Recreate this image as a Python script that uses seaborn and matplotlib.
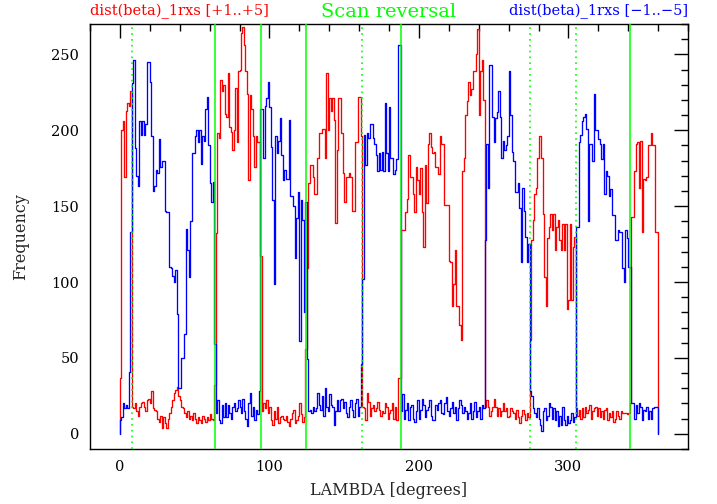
import numpy as np
import pandas as pd
import matplotlib
matplotlib.use("Agg")
import matplotlib.pyplot as plt
import seaborn as sns
from matplotlib.ticker import MultipleLocator

# ---- data: frequency per 1-degree LAMBDA bin (0..359) ----
red_counts = (
    # d0-d7
    [37, 200, 206, 169, 213, 218, 216, 226]
    # d8-d63
    + [18, 17, 20, 15, 12, 18, 20, 21, 18, 15, 22, 23, 20, 28, 17, 16, 15, 10, 8, 12,
       4, 11, 7, 4, 10, 14, 18, 22, 27, 29, 31, 25, 22, 18, 17, 14, 11, 15, 10, 12,
       9, 14, 10, 7, 11, 9, 7, 12, 10, 8, 11, 9, 13, 10, 9, 32]
    # d64-d94
    + [132, 198, 195, 233, 226, 230, 211, 209, 238, 202, 199, 187, 200, 228, 192, 239,
       240, 264, 268, 256, 239, 224, 167, 223, 214, 196, 176, 196, 192, 192, 117]
    # d95-d123
    + [15, 20, 17, 22, 14, 18, 9, 6, 15, 10, 18, 7, 11, 12, 10, 9, 12, 8, 5, 10,
       14, 16, 7, 9, 12, 20, 13, 8, 11]
    # d124-d161
    + [56, 109, 165, 177, 177, 169, 158, 158, 182, 198, 198, 201, 201, 182, 238, 200,
       221, 213, 221, 207, 139, 187, 221, 221, 198, 172, 153, 169, 169, 172, 169, 147,
       147, 192, 192, 222, 222, 196]
    # d162-d187
    + [18, 17, 9, 27, 21, 12, 17, 19, 15, 17, 21, 16, 12, 15, 14, 20, 18, 10, 14, 16,
       20, 10, 18, 9, 37, 37]
    # d188-d243
    + [134, 134, 134, 146, 155, 184, 169, 169, 158, 146, 176, 167, 158, 175, 146, 123,
       177, 152, 191, 198, 189, 185, 186, 176, 176, 171, 196, 191, 191, 151, 151, 151,
       114, 113, 84, 99, 121, 84, 84, 72, 62, 173, 182, 210, 219, 232, 223, 227,
       239, 239, 250, 267, 210, 239, 246, 220]
    # d244-d273
    + [18, 22, 18, 12, 15, 18, 23, 18, 12, 17, 12, 15, 20, 15, 17, 11, 12, 17, 15, 14,
       10, 16, 11, 7, 12, 16, 13, 9, 14, 11]
    # d274-d304
    + [62, 128, 141, 158, 162, 182, 196, 196, 182, 145, 103, 84, 129, 136, 145, 134,
       145, 121, 136, 141, 128, 121, 138, 121, 138, 82, 88, 138, 88, 123, 130]
    # d305-d341
    + [17, 12, 16, 10, 17, 11, 18, 14, 16, 19, 10, 15, 17, 18, 12, 17, 11, 15, 10, 16,
       17, 9, 14, 11, 15, 8, 10, 15, 12, 10, 15, 14, 14, 14, 13, 14, 20]
    # d342-d359
    + [143, 143, 173, 191, 192, 162, 193, 133, 168, 167, 169, 190, 190, 198, 190, 190,
       133, 133]
)

blue_counts = (
    # d0-d63
    [9, 11, 20, 17, 19, 17, 41, 133,
     231, 246, 188, 170, 163, 206, 197, 206, 197, 204,
     245, 245, 232, 196, 160, 163, 174, 172, 194, 176,
     180, 180, 147, 146, 146, 110, 109, 104, 100, 108,
     79, 30, 30, 50, 50, 66, 135, 121, 103, 140,
     185, 185, 196, 200, 192, 200, 178, 196, 193, 214,
     222, 190, 165, 153, 166, 59]
    # d64-d93
    + [14, 22, 9, 7, 19, 11, 20, 11, 19, 14, 10, 18, 20, 15, 17, 22, 18, 14, 23, 15,
       10, 5, 20, 27, 12, 18, 9, 16, 13, 28]
    # d94-d124
    + [214, 214, 182, 216, 221, 232, 215, 189, 154, 99, 196, 185, 193, 208, 184, 167,
       174, 168, 168, 207, 157, 157, 150, 116, 142, 159, 61, 154, 141, 80, 153]
    # d125-d161
    + [49, 15, 16, 14, 18, 15, 17, 27, 19, 16, 25, 12, 30, 18, 15,
       26, 19, 18, 6, 15, 22, 15, 22, 23, 17, 21, 14, 11, 18, 22, 16, 11, 20, 23, 12,
       18, 46]
    # d162-d187
    + [102, 197, 177, 198, 195, 204, 204, 195, 191, 184, 173, 185, 174, 186, 173, 218,
       185, 173, 215, 182, 182, 171, 174, 181, 256, 256]
    # d188-d243
    + [15, 26, 10, 16, 20, 9, 18, 19, 10, 8, 15, 22, 10, 16, 23, 19, 11, 16, 18, 22,
       12, 9, 9, 19, 16, 20, 22, 14, 13, 20, 24, 15, 12, 17, 21, 14, 18, 9, 17, 22,
       19, 14, 18, 15, 10, 14, 20, 10, 15, 21, 11, 15, 18, 10, 19, 17]
    # d244-d274
    + [128, 191, 162, 243, 243, 209, 192, 208, 212, 226, 209, 182, 193, 187, 190, 196,
       239, 210, 186, 180, 159, 159, 165, 149, 113, 162, 147, 130, 113, 125, 28]
    # d275-d304
    + [25, 17, 14, 11, 17, 10, 6, 2, 15, 17, 9, 12, 20, 18, 10, 17, 9, 15, 5, 12,
       6, 18, 9, 6, 12, 7, 9, 14, 8, 11]
    # d305-d341
    + [136, 136, 192, 197, 206, 209, 211, 201, 140, 191, 191, 180, 224, 200, 200, 194,
       191, 181, 191, 158, 173, 170, 157, 161, 144, 144, 128, 128, 134, 133, 133, 109,
       100, 134, 129, 110, 110]
    # d342-d359
    + [20, 20, 10, 19, 14, 20, 18, 9, 16, 15, 18, 10, 15, 10, 17, 18, 18, 18]
)

assert len(red_counts) == 360, len(red_counts)
assert len(blue_counts) == 360, len(blue_counts)

bin_start = list(range(360))          # LAMBDA bins, degrees
solid_reversals = [63.7, 94.5, 124.5, 187.7, 341.5]
dotted_reversals = [7.9, 162.0, 274.6, 305.0]

title_red = "dist(beta)_1rxs [+1..+5]"
title_green = "Scan reversal"
title_blue = "dist(beta)_1rxs [\u22121..\u22125]"
xlabel = "LAMBDA [degrees]"
ylabel = "Frequency"


def step_frame(vals):
    # closed histogram outline: start and end on the baseline
    x = [bin_start[0]] + bin_start + [bin_start[-1] + 1, bin_start[-1] + 1]
    y = [0] + list(vals) + [vals[-1], 0]
    return pd.DataFrame({"lam": x, "freq": y})


df_red = step_frame(red_counts)
df_blue = step_frame(blue_counts)

sns.set_theme(style="white")
plt.rcParams["font.family"] = ["DejaVu Serif"]

fig = plt.figure(figsize=(7.17, 5.04), dpi=100)
ax = fig.add_axes([90 / 717, 1 - 449 / 504, 598 / 717, 425 / 504])

sns.lineplot(data=df_blue, x="lam", y="freq", ax=ax, color="#0000ff", lw=0.95,
             drawstyle="steps-post", estimator=None, sort=False, zorder=3)
sns.lineplot(data=df_red, x="lam", y="freq", ax=ax, color="#ff0000", lw=0.95,
             drawstyle="steps-post", estimator=None, sort=False, zorder=2)

for xv in solid_reversals:
    ax.axvline(xv, color="#00ff00", lw=1.1, zorder=4)
for xv in dotted_reversals:
    ax.axvline(xv, color="#00ff00", lw=1.2, ls=(0, (1, 2.5)), zorder=4)

ax.set_xlim(-20, 380)
ax.set_ylim(-10, 270)
ax.xaxis.set_major_locator(MultipleLocator(100))
ax.xaxis.set_minor_locator(MultipleLocator(20))
ax.yaxis.set_major_locator(MultipleLocator(50))
ax.yaxis.set_minor_locator(MultipleLocator(10))
ax.tick_params(which="both", direction="in", top=True, right=True,
               color="black", width=1.0, labelsize=10.5, labelcolor="black")
ax.tick_params(which="major", length=10, pad=8)
ax.tick_params(which="minor", length=5)
for s in ax.spines.values():
    s.set_color("black")
    s.set_linewidth(1.0)

ax.set_xlabel(xlabel, fontsize=11.5, labelpad=6)
ax.set_ylabel(ylabel, fontsize=11.5, labelpad=16)

ax.text(0.0, 1.012, title_red, transform=ax.transAxes, ha="left", va="bottom",
        color="#ff0000", fontsize=10.5)
ax.text(0.5, 1.008, title_green, transform=ax.transAxes, ha="center", va="bottom",
        color="#00ff00", fontsize=14)
ax.text(1.0, 1.012, title_blue, transform=ax.transAxes, ha="right", va="bottom",
        color="#0000ff", fontsize=10.5)

fig.savefig("out.png", dpi=100)
